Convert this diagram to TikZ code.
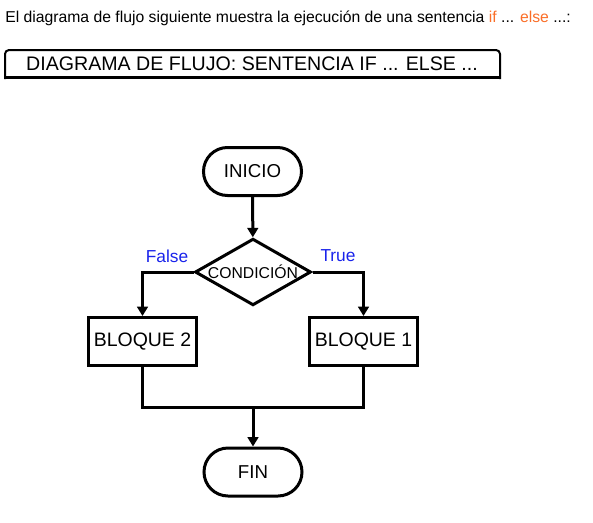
\documentclass[tikz,border=0pt]{standalone}
\usepackage{fontspec}
\setmainfont{Liberation Sans}
\usetikzlibrary{shapes.geometric,arrows.meta}
\definecolor{labelblue}{RGB}{25,35,235}
\definecolor{kworange}{RGB}{250,110,40}
\begin{document}
\begin{tikzpicture}[x=0.75pt,y=-0.75pt,
  termstyle/.style={draw,line width=2.25pt,rounded corners=18pt,minimum width=73.5pt,minimum height=36pt,font=\fontsize{14}{16}\selectfont},
  blockstyle/.style={draw,line width=2.25pt,minimum width=81pt,minimum height=36pt,inner sep=1pt,font=\fontsize{14.6}{16}\selectfont},
  decisionstyle/.style={draw,diamond,aspect=1.74,line width=2.25pt,minimum width=87pt,minimum height=50pt,inner sep=0pt,font=\fontsize{11.8}{13}\selectfont},
  labelstyle/.style={text=labelblue,font=\fontsize{13}{15}\selectfont},
  arrowstyle/.style={line width=2.25pt,-{Triangle[length=7pt,width=8pt]}}]
\useasboundingbox (0,0) rectangle (593,522);
% heading
\node[anchor=base west,inner sep=0pt,font=\fontsize{11.8}{14}\selectfont] (intro) at (5,22)
  {El diagrama de flujo siguiente muestra la ejecución de una sentencia \textcolor{kworange}{if} ... \textcolor{kworange}{else} ...:};
\node[font=\fontsize{14.7}{17}\selectfont] (banner) at (252,64) {DIAGRAMA DE FLUJO: SENTENCIA IF ... ELSE ...};
\draw[line width=1.5pt,rounded corners=3pt] (5,79) -- (5,50) -- (500,50) -- (500,79);
\draw[line width=2.25pt] (5,77) -- (500,77);
% flowchart
\node[termstyle] (inicio) at (252.5,171.5) {INICIO};
\node[decisionstyle] (cond) at (253,272) {CONDICIÓN};
\node[blockstyle] (b2) at (142.5,341.5) {BLOQUE 2};
\node[blockstyle] (b1) at (363.5,341.5) {BLOQUE 1};
\node[termstyle] (fin) at (253,472) {FIN};
\coordinate (join) at (253,407);
\node[labelstyle] (false) at (167,256) {False};
\node[labelstyle] (true) at (338,256) {True};

\draw[arrowstyle] (inicio) -- (cond);
\draw[arrowstyle] (cond.west) -| (b2);
\draw[arrowstyle] (cond.east) -| (b1);
\draw[line width=2.25pt] (b2) |- (join) -| (b1);
\draw[arrowstyle] (join) -- (fin);
\end{tikzpicture}
\end{document}
